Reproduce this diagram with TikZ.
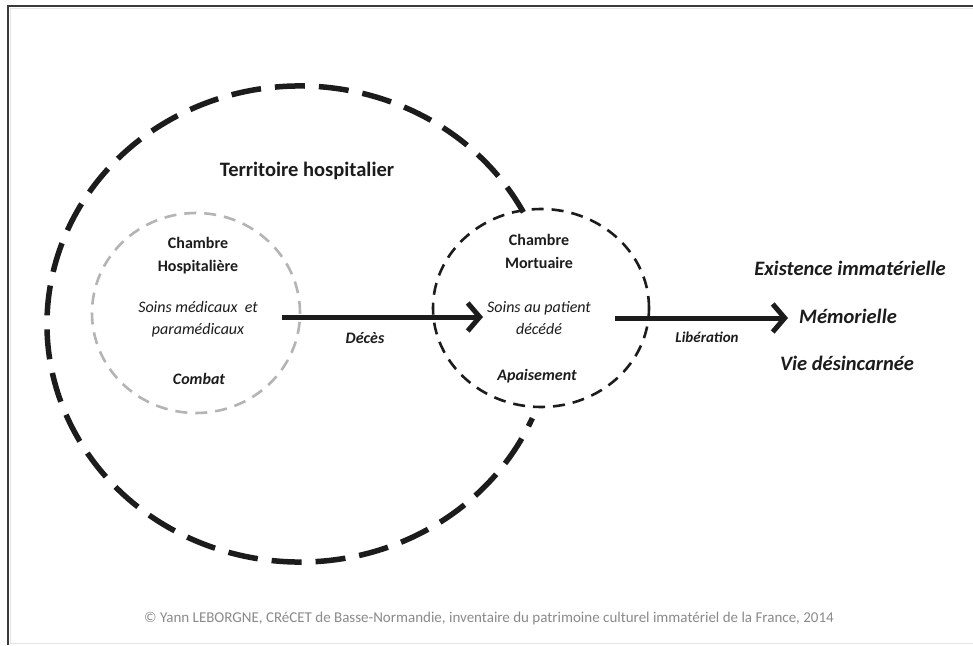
\documentclass[tikz,border=0pt]{standalone}
\usepackage{fontspec}
\setmainfont{Carlito}
\usetikzlibrary{arrows.meta,shapes.geometric}
\definecolor{ink}{HTML}{1C1C1C}
\definecolor{lightring}{HTML}{B4B4B4}
\definecolor{framecol}{HTML}{3A3A3A}
\definecolor{notecol}{HTML}{8A8A8A}
\begin{document}
\begin{tikzpicture}[x=1pt,y=-1pt,
  txt/.style={text=ink, inner sep=0pt, align=center},
  room/.style={txt, font=\fontsize{16}{23}\selectfont\bfseries},
  care/.style={txt, font=\fontsize{16}{22}\selectfont\itshape},
  mood/.style={txt, font=\fontsize{16}{18}\selectfont\bfseries\itshape},
  after/.style={txt, font=\fontsize{20.5}{24}\selectfont\bfseries\itshape},
  flow/.style={draw=ink, line width=5pt, -{Straight Barb[length=12pt,width=28pt]}},
  ringA/.style={draw=lightring, ellipse, line width=2.6pt, dash pattern=on 12pt off 8pt, minimum width=208pt, minimum height=200pt, inner sep=0pt},
  ringB/.style={draw=ink, ellipse, line width=2.6pt, dash pattern=on 12pt off 8pt, minimum width=216pt, minimum height=198pt, inner sep=0pt},
  bigring/.style={draw=ink, line width=5.5pt, dash pattern=on 30pt off 14pt},
]
\useasboundingbox (0,0) rectangle (973,645);
\fill[white] (0,0) rectangle (973,645);
% frame
\draw[framecol, line width=1.6pt] (973,6) -- (8,6) -- (8,645);
\draw[black!10, line width=0.8pt] (973,8.5) -- (10.5,8.5) -- (10.5,643) -- (973,643);

% outer territory arc
\coordinate (tc) at (300,324);
\draw[bigring] (tc) ++(28:253pt and 238pt) arc[start angle=28, end angle=336.7, x radius=253pt, y radius=238pt];
\node[txt, font=\fontsize{20.5}{24}\selectfont\bfseries] (terr) at (307,171) {Territoire hospitalier};

% rings
\node[ringA] (hosp) at (196,313) {};
\node[ringB] (mort) at (541,308) {};

% hospital room texts
\node[room] (h1) at (198,256) {Chambre\\Hospitalière};
\node[care] (h2) at (198,319) {Soins médicaux\ \ et\\paramédicaux};
\node[mood] (h3) at (199,379) {Combat};

% mortuary texts
\node[room] (m1) at (539,251) {Chambre\\Mortuaire};
\node[care] (m2) at (539,318) {Soins au patient\\décédé};
\node[mood] (m3) at (537,376) {Apaisement};

% arrows
\coordinate (a1s) at (282,317);
\coordinate (a1e) at (483,317);
\draw[flow] (a1s) -- (a1e);
\node[mood] (deces) at (365,338) {Décès};

\coordinate (a2s) at (615,318);
\coordinate (a2e) at (788,318);
\draw[flow] (a2s) -- (a2e);
\node[mood, font=\fontsize{15}{16}\selectfont\bfseries\itshape] (lib) at (707,337) {Libération};

% beyond
\node[after] (r1) at (850,268) {Existence immatérielle};
\node[after] (r2) at (848,316) {Mémorielle};
\node[after] (r3) at (847,363) {Vie désincarnée};

% credit
\node[txt, text=notecol, font=\fontsize{15}{16}\selectfont] (credit) at (489,618) {© Yann LEBORGNE, CRéCET de Basse-Normandie, inventaire du patrimoine culturel immatériel de la France, 2014};
\end{tikzpicture}
\end{document}
